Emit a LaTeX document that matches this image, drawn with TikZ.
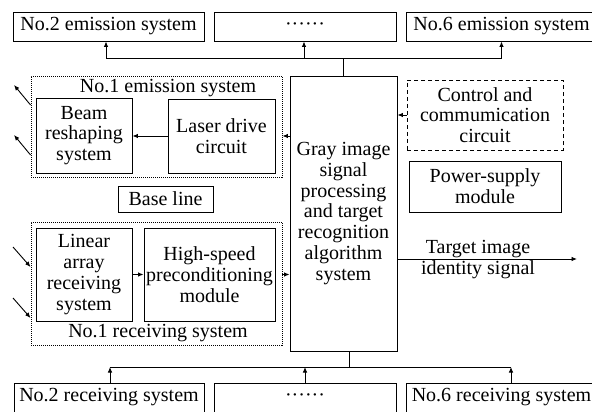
\documentclass[tikz,border=0pt]{standalone}
\usepackage{fontspec}
\setmainfont{Liberation Serif}
\usetikzlibrary{arrows.meta,calc}
\begin{document}
\begin{tikzpicture}[x=1pt,y=-1pt,
  lw/.style={line width=0.9pt},
  txt/.style={font=\fontsize{20}{20.7}\selectfont, align=center, inner sep=0pt},
  box/.style={txt, draw, lw},
  dotbox/.style={draw, lw, dash pattern=on 1pt off 1pt},
  dashbox/.style={txt, draw, lw, dash pattern=on 4pt off 3pt},
  arr/.style={lw, -{Latex[length=5.5pt,width=4.5pt]}}]
\useasboundingbox (0,0) rectangle (592,412);

% top row of emission systems
\node[box, minimum width=191, minimum height=29] (e2) at (108.5,26.5) {No.2 emission system};
\node[box, minimum width=182, minimum height=29] (edots) at (305,26.5) {\textperiodcentered\textperiodcentered\textperiodcentered\textperiodcentered\textperiodcentered\textperiodcentered};
\node[box, minimum width=191, minimum height=29] (e6) at (501.5,26.5) {No.6 emission system};

% bottom row of receiving systems
\node[box, minimum width=190, minimum height=29] (r2) at (109,397.5) {No.2 receiving system};
\node[box, minimum width=182, minimum height=29] (rdots) at (305,397.5) {\textperiodcentered\textperiodcentered\textperiodcentered\textperiodcentered\textperiodcentered\textperiodcentered};
\node[box, minimum width=191, minimum height=29] (r6) at (501.5,397.5) {No.6 receiving system};

% central processing block
\node[box, minimum width=107, minimum height=275] (cc) at (343.5,213.5)
  {Gray image\\signal\\processing\\and target\\recognition\\algorithm\\system};

% No.1 emission system
\node[dotbox, minimum width=251, minimum height=101] (em1) at (156.5,126.5) {};
\node[txt] (em1t) at (168,88) {No.1 emission system};
\node[box, minimum width=96, minimum height=75] (bs) at (84,135.5) {Beam\\reshaping\\system};
\node[box, minimum width=107, minimum height=74] (ld) at (221.5,136) {Laser drive\\circuit};

% base line
\node[box, minimum width=95, minimum height=26] (bl) at (165.5,199) {Base line};

% No.1 receiving system
\node[dotbox, minimum width=251, minimum height=123] (rc1) at (156.5,283.5) {};
\node[txt] (rc1t) at (158,333) {No.1 receiving system};
\node[box, minimum width=96, minimum height=93] (la) at (84,274.5) {Linear\\array\\receiving\\system};
\node[box, minimum width=131, minimum height=93] (hs) at (209.5,274.5) {High-speed\\preconditioning\\module};

% control and power blocks
\node[dashbox, minimum width=156, minimum height=70] (ctl) at (485,115) {Control and\\commumication\\circuit};
\node[box, minimum width=152, minimum height=51] (ps) at (485,186.5) {Power-supply\\module};

% output signal
\coordinate (out) at (577,259);
\node[txt] (tl1) at (478,249) {Target image};
\node[txt] (tl2) at (478,270) {identity signal};
\draw[arr] (cc.east |- out) -- (out);

% distribution to the emission systems
\coordinate (tj) at (343.5,58);
\draw[lw] (cc.north) -- (tj);
\draw[lw] ([xshift=-2.5pt]e2.south |- tj) -- (e6.south |- tj);
\draw[arr] ([xshift=-2.5pt]e2.south |- tj) -- ([xshift=-2.5pt]e2.south);
\draw[arr] ([xshift=-1pt]edots.south |- tj) -- ([xshift=-1pt]edots.south);
\draw[arr] (e6.south |- tj) -- (e6.south);

% collection from the receiving systems
\coordinate (bj) at (349,367);
\draw[lw] (bj |- cc.south) -- (bj);
\draw[lw] ([xshift=1pt]r2.north |- bj) -- ([xshift=9.5pt]r6.north |- bj);
\draw[arr] ([xshift=1pt]r2.north) -- ([xshift=1pt]r2.north |- bj);
\draw[arr] (rdots.north) -- (rdots.north |- bj);
\draw[arr] ([xshift=9.5pt]r6.north) -- ([xshift=9.5pt]r6.north |- bj);

% internal links
\draw[arr] (ld.west) -- (ld.west -| bs.east);
\draw[arr] (cc.west |- ld.west) -- (em1.east |- ld.west);
\draw[arr] (la.east) -- (la.east -| hs.west);
\draw[arr] (rc1.east |- hs.east) -- (cc.west |- hs.east);
\draw[arr] (ctl.west) -- (ctl.west -| cc.east);

% beams leaving and entering
\coordinate (b1) at (14,85);
\coordinate (b2) at (14,135);
\coordinate (c1) at (13,247);
\coordinate (c2) at (13,298);
\draw[arr] ([yshift=21.5pt]em1.west) -- (b1);
\draw[arr] ([yshift=-28.5pt]em1.west) -- (b2);
\draw[arr] (c1) -- ([yshift=16.5pt]rc1.west);
\draw[arr] (c2) -- ([yshift=-34.5pt]rc1.west);
\end{tikzpicture}
\end{document}
